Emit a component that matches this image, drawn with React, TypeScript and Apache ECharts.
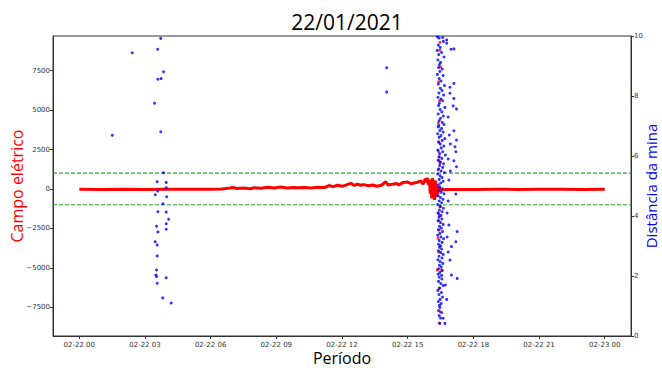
import React, { useEffect, useRef } from "react";
import * as echarts from "echarts";

// x in hours since 02-22 00:00
const xMin = -1.2;
const xMax = 25.2;
const xTickValues = [0, 3, 6, 9, 12, 15, 18, 21, 24];
const xTickLabels = ["02-22 00", "02-22 03", "02-22 06", "02-22 09", "02-22 12", "02-22 15", "02-22 18", "02-22 21", "02-23 00"];
const leftTicks = [-7500, -5000, -2500, 0, 2500, 5000, 7500];
const thresholds = [1000, -1000];

// Campo elétrico (red trace)
const electricField: [number, number][] = [
  [0, -20], [1, -25], [2, -20], [3, -25], [4, -20], [5, -15], [6, -10], [6.5, 0], [6.8, 40], [7.0, 90],
  [7.2, 30], [7.5, 60], [7.8, 20], [8.0, 80], [8.3, 50], [8.6, 110], [8.9, 60], [9.2, 120], [9.5, 70],
  [9.8, 100], [10.0, 85], [10.3, 95], [10.6, 70], [10.9, 110], [11.2, 90], [11.4, 220], [11.6, 150],
  [11.8, 240], [12.0, 170], [12.2, 260], [12.4, 360], [12.55, 230], [12.7, 300], [12.85, 240], [13.0, 280],
  [13.2, 210], [13.4, 250], [13.6, 170], [13.8, 240], [14.0, 460], [14.1, 260], [14.3, 300], [14.5, 350],
  [14.6, 260], [14.8, 420], [15.0, 440], [15.15, 330], [15.3, 380], [15.45, 430], [15.6, 520], [15.7, 300],
  [15.8, 650], [15.85, 420], [15.9, 700], [15.95, 250], [16.0, 600], [16.03, -300], [16.06, 500], [16.1, -600],
  [16.13, 700], [16.16, -400], [16.2, 300], [16.23, -700], [16.26, 550], [16.3, -500], [16.33, 200],
  [16.37, -300], [16.42, 100], [16.5, -80], [16.6, -40], [16.8, -30], [17.5, -25], [18, -25], [19, -20],
  [20, -25], [21, -20], [22, -20], [23, -25], [24, -20],
];

// Campo elétrico extremes during the spike (red dots)
const fieldSpike: [number, number][] = [
  [16.47, 8800], [16.5, 7740], [16.44, 2045], [16.47, 1625], [16.39, 1200], [16.47, -1120], [16.44, -2600],
  [16.39, -3120], [16.35, -5130], [16.55, -5130], [16.47, -7770], [16.44, -8500], [16.4, 2400], [16.42, 1800],
  [16.38, -1500], [16.41, -2000], [16.45, -1700], [16.43, 3000], [16.4, 4200], [16.46, 5600], [16.42, -4000],
  [16.44, -6300], [16.41, 6800], [16.48, 9300],
];

// Distância da mina (blue dots)
const mineDistance: [number, number][] = [
  [1.51, 6.69], [2.42, 9.44], [3.72, 9.92], [3.58, 9.56], [3.85, 8.81], [3.74, 8.58], [3.59, 8.56], [3.44, 7.76],
  [3.72, 6.81], [3.85, 5.44], [3.56, 5.14], [3.97, 5.12], [3.97, 4.94], [3.58, 4.83], [3.47, 4.71], [3.99, 4.64],
  [3.82, 4.41], [3.59, 4.14], [3.97, 4.13], [4.08, 3.89], [3.97, 3.74], [3.53, 3.66], [3.97, 3.56], [3.59, 3.47],
  [3.47, 3.14], [3.56, 3.03], [3.56, 2.67], [3.53, 2.2], [3.5, 2.03], [3.53, 1.98], [3.97, 1.94], [3.56, 1.76],
  [3.81, 1.27], [4.2, 1.1], [14.04, 8.94], [14.04, 8.13],
  [16.36, 9.97], [16.44, 9.93], [16.6, 9.95], [16.63, 9.82], [16.4, 9.7], [16.48, 9.62], [16.35, 9.52], [16.55, 9.45],
  [16.42, 9.38], [16.66, 9.3], [16.38, 9.2], [16.5, 9.12], [16.45, 9.05], [16.78, 9.87], [16.78, 9.76], [16.98, 9.56],
  [17.11, 9.57],
  [16.41, 8.95], [16.58, 8.9], [16.47, 8.82], [16.36, 8.72], [16.62, 8.68], [16.44, 8.58], [16.52, 8.5], [16.4, 8.4],
  [16.68, 8.35], [16.49, 8.26], [16.57, 8.18], [16.43, 8.1], [16.64, 8.03], [17.11, 8.42], [16.93, 8.29], [16.93, 8.09],
  [16.38, 7.96], [16.52, 7.9], [16.6, 7.84], [16.45, 7.76], [16.41, 7.68], [16.7, 7.62], [16.48, 7.55], [16.56, 7.47],
  [16.39, 7.4], [16.63, 7.33], [16.5, 7.26], [16.44, 7.18], [16.58, 7.12], [16.66, 7.05], [16.42, 7.02], [17.11, 7.92],
  [17.23, 7.57], [17.08, 7.67], [16.85, 7.3],
  [16.4, 6.97], [16.55, 6.92], [16.47, 6.85], [16.62, 6.8], [16.37, 6.74], [16.52, 6.68], [16.44, 6.62], [16.7, 6.58],
  [16.58, 6.52], [16.41, 6.46], [16.49, 6.4], [16.65, 6.33], [16.53, 6.27], [16.38, 6.2], [16.6, 6.14], [16.46, 6.08],
  [16.72, 6.03], [17.11, 6.84], [17.23, 6.53], [17.16, 6.31], [17.2, 6.14], [16.9, 6.7], [16.95, 6.4],
  [16.43, 5.97], [16.56, 5.92], [16.39, 5.86], [16.5, 5.8], [16.64, 5.74], [16.46, 5.68], [16.6, 5.62], [16.41, 5.57],
  [16.53, 5.5], [16.68, 5.45], [16.37, 5.4], [16.48, 5.34], [16.57, 5.28], [16.44, 5.22], [16.62, 5.16], [16.51, 5.1],
  [16.4, 5.04], [17.11, 5.84], [17.23, 5.64], [16.95, 5.5], [16.85, 5.9], [16.88, 5.2],
  [16.46, 4.97], [16.58, 4.91], [16.42, 4.85], [16.53, 4.79], [16.66, 4.74], [16.39, 4.68], [16.49, 4.62], [16.61, 4.56],
  [16.44, 4.5], [16.55, 4.44], [16.37, 4.38], [16.5, 4.32], [16.63, 4.26], [16.45, 4.2], [16.57, 4.14], [16.41, 4.08],
  [16.52, 4.02], [17.2, 4.73], [16.85, 4.5], [16.8, 4.1],
  [16.43, 3.96], [16.56, 3.9], [16.39, 3.84], [16.5, 3.78], [16.62, 3.72], [16.45, 3.66], [16.54, 3.6], [16.4, 3.54],
  [16.59, 3.48], [16.47, 3.42], [16.37, 3.36], [16.52, 3.3], [16.64, 3.24], [16.44, 3.18], [16.57, 3.12], [16.41, 3.06],
  [16.5, 3.01], [17.26, 3.48], [17.2, 3.14], [16.88, 3.7], [16.8, 3.3],
  [16.45, 2.96], [16.55, 2.9], [16.4, 2.84], [16.51, 2.78], [16.62, 2.72], [16.43, 2.66], [16.57, 2.6], [16.38, 2.54],
  [16.48, 2.48], [16.6, 2.42], [16.45, 2.36], [16.53, 2.3], [16.41, 2.24], [16.58, 2.18], [16.47, 2.12], [16.39, 2.06],
  [16.55, 2.02], [17.0, 2.98], [16.93, 2.53], [16.85, 2.8],
  [16.44, 1.96], [16.56, 1.9], [16.41, 1.82], [16.51, 1.75], [16.62, 1.68], [16.46, 1.6], [16.38, 1.52], [16.54, 1.45],
  [16.43, 1.38], [16.59, 1.3], [16.48, 1.22], [16.4, 1.15], [16.53, 1.08], [16.45, 1.02], [17.26, 1.92], [17.0, 2.03],
  [16.78, 1.22], [16.72, 1.7],
  [16.47, 0.95], [16.41, 0.85], [16.55, 0.78], [16.44, 0.68], [16.5, 0.6], [16.62, 0.59], [16.7, 0.42], [16.47, 0.42],
];

const fmtLeft = (v: number) => (v < 0 ? "\u2212" + String(-v) : String(v));

export default function App() {
  const ref = useRef<HTMLDivElement>(null);
  useEffect(() => {
    const chart = echarts.init(ref.current!, null, { renderer: "svg" });
    const axisColor = "#333";
    const tickLabel = { fontFamily: "DejaVu Sans", fontSize: 7, color: "#333" };
    const thresholdSeries = thresholds.map((v) => ({
      type: "line",
      yAxisIndex: 0,
      data: [
        [xMin, v],
        [xMax, v],
      ],
      showSymbol: false,
      silent: true,
      z: 1,
      lineStyle: { color: "#2ca02c", type: [4, 2], width: 1.2 },
    }));
    chart.setOption({
      animation: false,
      backgroundColor: "#fff",
      title: {
        text: "22/01/2021",
        left: 342,
        top: 6,
        textAlign: "center",
        textStyle: { fontFamily: "Open Sans", fontSize: 21, fontWeight: "normal", color: "#000" },
      },
      grid: {
        left: 53,
        right: 31,
        top: 36,
        bottom: 32,
        containLabel: false,
        outerBoundsMode: "none",
        show: true,
        borderColor: axisColor,
        borderWidth: 1,
      },
      xAxis: {
        type: "value",
        min: xMin,
        max: xMax,
        name: "Período",
        nameLocation: "middle",
        nameGap: 14,
        nameMoveOverlap: false,
        nameTextStyle: { fontFamily: "Open Sans", fontSize: 16, lineHeight: 16, color: "#000" },
        axisLine: { show: true, onZero: false, lineStyle: { color: axisColor } },
        axisTick: { show: true, length: 3, customValues: xTickValues, lineStyle: { color: axisColor } },
        axisLabel: {
          ...tickLabel,
          margin: 5,
          customValues: xTickValues,
          formatter: (v: number) => {
            const i = xTickValues.indexOf(v);
            return i >= 0 ? xTickLabels[i] : "";
          },
        },
        splitLine: { show: false },
      },
      yAxis: [
        {
          type: "value",
          position: "left",
          min: -9320,
          max: 9700,
          name: "Campo elétrico",
          nameLocation: "middle",
          nameGap: 28,
          nameRotate: 90,
          nameMoveOverlap: false,
          nameTextStyle: { fontFamily: "Open Sans", fontSize: 16, lineHeight: 16, color: "#ff0000" },
          axisLine: { show: true, onZero: false, lineStyle: { color: axisColor } },
          axisTick: { show: true, length: 3, customValues: leftTicks, lineStyle: { color: axisColor } },
          axisLabel: { ...tickLabel, margin: 3, customValues: leftTicks, formatter: fmtLeft },
          splitLine: { show: false },
        },
        {
          type: "value",
          position: "right",
          min: 0,
          max: 10,
          interval: 2,
          name: "Distância da mina",
          nameLocation: "middle",
          nameGap: 12,
          nameRotate: 90,
          nameMoveOverlap: false,
          nameTextStyle: { fontFamily: "Open Sans", fontSize: 15, lineHeight: 15, color: "#0000ff" },
          axisLine: { show: true, onZero: false, lineStyle: { color: axisColor } },
          axisTick: { show: true, length: 3, lineStyle: { color: axisColor } },
          axisLabel: { ...tickLabel, margin: 3 },
          splitLine: { show: false },
        },
      ],
      series: [
        {
          type: "line",
          yAxisIndex: 0,
          data: electricField,
          showSymbol: false,
          z: 2,
          lineStyle: { color: "#ff0000", width: 3 },
        },
        ...thresholdSeries,
        {
          type: "scatter",
          yAxisIndex: 0,
          data: fieldSpike,
          symbolSize: 3,
          z: 3,
          itemStyle: { color: "#ff0000" },
        },
        {
          type: "scatter",
          yAxisIndex: 1,
          data: mineDistance,
          symbolSize: 3,
          z: 4,
          itemStyle: { color: "#0000ff" },
        },
      ],
    });
    return () => chart.dispose();
  }, []);
  return <div ref={ref} style={{ position: "fixed", left: 0, top: 0, width: 662, height: 368 }} />;
}
